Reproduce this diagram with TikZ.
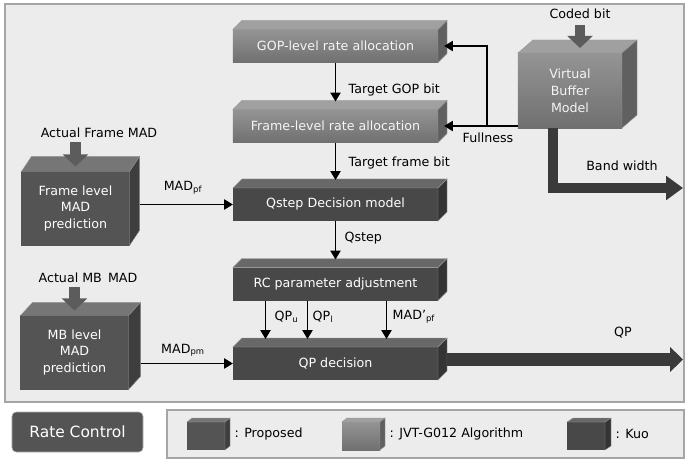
\documentclass[tikz,border=0pt]{standalone}
\usepackage{fontspec}
\setmainfont{DejaVu Sans}
\usepackage{tikz}
\usetikzlibrary{arrows.meta, positioning, calc}
\definecolor{panelbg}{RGB}{236, 236, 236}
\definecolor{panelline}{RGB}{165, 165, 165}
\definecolor{facelines}{RGB}{150, 150, 150}
\definecolor{jvtfa}{RGB}{148, 148, 148}
\definecolor{jvtfb}{RGB}{112, 112, 112}
\definecolor{topjvt}{RGB}{160, 160, 160}
\definecolor{sidejvt}{RGB}{96, 96, 96}
\definecolor{kuofront}{RGB}{72, 72, 72}
\definecolor{topkuo}{RGB}{104, 104, 104}
\definecolor{sidekuo}{RGB}{52, 52, 52}
\definecolor{propfront}{RGB}{84, 84, 84}
\definecolor{topprop}{RGB}{118, 118, 118}
\definecolor{sideprop}{RGB}{62, 62, 62}
\definecolor{arrowgray}{RGB}{92, 92, 92}
\definecolor{arrowdark}{RGB}{58, 58, 58}

\begin{document}
\begin{tikzpicture}[
  x=0.025cm, y=0.025cm, font=\fontsize{9}{12}\selectfont,
  every node/.style={inner sep=1pt},
  panel/.style={draw=panelline, line width=1.2pt, fill=panelbg},
  box/.style={minimum width=5.125cm, minimum height=0.825cm, inner sep=0pt, outer sep=0pt},
  jvtbox/.style={box, top color=jvtfa, bottom color=jvtfb, text=gray!8},
  kuobox/.style={box, fill=kuofront, text=white},
  predbox/.style={minimum width=2.7cm, minimum height=1.85cm, inner sep=0pt, outer sep=0pt, align=center, fill=propfront, text=white},
  lgbox/.style={minimum width=0.95cm, minimum height=0.7cm, inner sep=0pt, outer sep=0pt},
  flow/.style={->, line width=1.3pt},
  fatin/.style={line width=0.25cm, arrowgray, -{Triangle[length=0.3cm, width=0.62cm]}},
  fatout/.style={line width=0.25cm, arrowdark, line join=miter, -{Triangle[length=0.42cm, width=0.58cm]}},
  >={Triangle[length=0.22cm, width=0.25cm]}
]
\useasboundingbox (0,0) rectangle (689,-460);
\draw[panel] (5,-4) rectangle (684,-402);
\draw[panel] (167,-410) rectangle (684,-458);
% rate control blocks
\node[jvtbox] (gop) at (335.5,-46) {GOP-level rate allocation};
\node[jvtbox] (frame) at (335.5,-126) {Frame-level rate allocation};
\node[kuobox] (qstep) at (335.5,-204.5) {Qstep Decision model};
\node[kuobox] (rc) at (335.5,-284) {RC parameter adjustment};
\node[kuobox] (qpd) at (335.5,-363.5) {QP decision};
\node[predbox] (fmad) at (75.5,-208.5) {Frame level\\MAD\\prediction};
\node[predbox] (mbmad) at (74.5,-352.5) {MB level\\MAD\\prediction};
\node[predbox, fill=none, top color=jvtfa, bottom color=jvtfb, text=gray!8, minimum width=2.6cm, minimum height=1.875cm] (vbm) at (570,-90.5) {Virtual\\Buffer\\Model};
% legend
\node[fill=propfront, draw=gray!60, rounded corners=3pt, minimum width=3.275cm, minimum height=1cm, text=white, font=\fontsize{11}{13}\selectfont] (ratectl) at (77.5,-432) {Rate Control};
\node[lgbox, fill=propfront] (lgprop) at (206,-436) {};
\node[lgbox, top color=jvtfa, bottom color=jvtfb] (lgjvt) at (361,-436) {};
\node[lgbox, fill=kuofront] (lgkuo) at (586,-436) {};
\node[anchor=west] (lgproptxt) at (233,-434) {: Proposed};
\node[anchor=west] (lgjvttxt) at (388,-434) {: JVT-G012 Algorithm};
\node[anchor=west] (lgkuotxt) at (614,-434) {: Kuo};
% top and side faces
\foreach \n/\c/\dx/\dy in {gop/jvt/9/9, frame/jvt/9/9, qstep/kuo/9/9, rc/kuo/9/9, qpd/kuo/9/9, fmad/prop/10/15, mbmad/prop/12/13, vbm/jvt/15/13, lgprop/prop/5/4, lgjvt/jvt/5/4, lgkuo/kuo/6/4} {
  \filldraw[fill=top\c, draw=facelines, line width=0.3pt] (\n.north west) -- ++(\dx,\dy) -- ($(\n.north east)+(\dx,\dy)$) -- (\n.north east) -- cycle;
  \filldraw[fill=side\c, draw=facelines, line width=0.3pt] (\n.north east) -- ++(\dx,\dy) -- ($(\n.south east)+(\dx,\dy)$) -- (\n.south east) -- cycle;
}
% labels
\node (coded) at (580,-14) {Coded bit};
\node (afmad) at (99,-133) {Actual Frame MAD};
\node (ambmad) at (88,-278) {Actual MB\, MAD};
\node[anchor=west] (tgop) at (347,-90) {Target GOP bit};
\node[anchor=west] (tframe) at (347,-163) {Target frame bit};
\node[anchor=west] (qsteplbl) at (343,-238) {Qstep};
\node (fullness) at (488,-138) {Fullness};
\node (bandw) at (622,-166) {Band width};
\node (madpf) at (183,-188) {MAD\textsubscript{pf}};
\node (madpm) at (183,-350) {MAD\textsubscript{pm}};
\node[anchor=west] (qpu) at (273,-317) {QP\textsubscript{u}};
\node[anchor=west] (qpl) at (311,-317) {QP\textsubscript{l}};
\node[anchor=west] (madpp) at (391,-317) {MAD'\textsubscript{pf}};
\node (qplbl) at (623,-333) {QP};
% connectors
\draw[flow, shorten >=0.2cm] (gop) -- (frame);
\draw[flow, shorten >=0.2cm] (frame) -- (qstep);
\draw[flow, shorten >=0.2cm] (qstep) -- (rc);
\draw[flow, shorten >=0.2cm] ($(rc.south)+(-70,0)$) -- ($(qpd.north)+(-70,0)$);
\draw[flow, shorten >=0.2cm] ($(rc.south)+(-28,0)$) -- ($(qpd.north)+(-28,0)$);
\draw[flow, shorten >=0.2cm] ($(rc.south)+(51,0)$) -- ($(qpd.north)+(51,0)$);
\draw[flow] ($(qstep.west -| fmad.east)+(10,0)$) -- (qstep.west);
\draw[flow] ($(qpd.west -| mbmad.east)+(12,0)$) -- (qpd.west);
\coordinate (fjoin) at (487,-126);
\draw[flow] (vbm.west |- frame.east) -- ($(frame.east)+(6,0)$);
\draw[flow] (fjoin) |- ($(gop.east)+(6,0)$);
\draw[fatin, shorten <=3pt] (coded.south) -- ($(coded.south |- vbm.north)+(0,5)$);
\draw[fatin, shorten <=2pt] (afmad.south -| fmad.north) -- ($(fmad.north)+(0,5)$);
\draw[fatin, shorten <=2pt] (ambmad.south -| mbmad.north) -- ($(mbmad.north)+(0,5)$);
\coordinate (bwend) at (683,-188);
\draw[fatout] ($(vbm.south)+(-17,0)$) |- (bwend);
\coordinate (qpend) at (683,0);
\draw[fatout, line width=0.33cm, -{Triangle[length=0.32cm, width=0.6cm]}] ($(qpd.east)+(9,4)$) -- ($(qpd.east -| qpend)+(0,4)$);
\end{tikzpicture}
\end{document}
